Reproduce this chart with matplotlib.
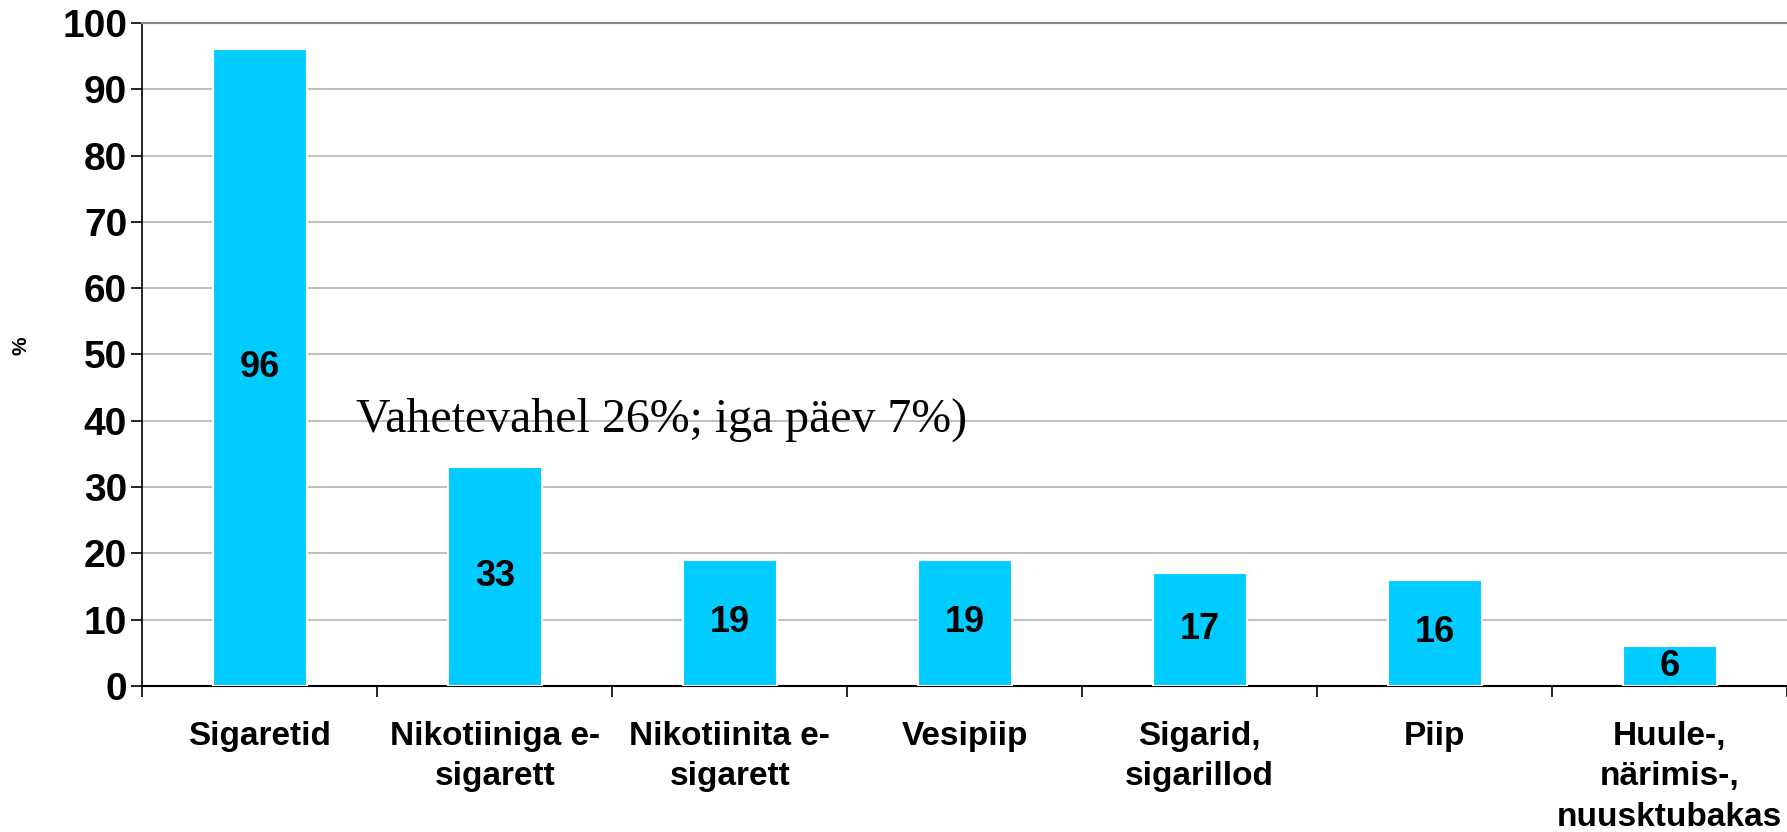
import numpy as np
import matplotlib.pyplot as plt

categories = ["Sigaretid", "Nikotiiniga e-\nsigarett", "Nikotiinita e-\nsigarett",
              "Vesipiip", "Sigarid,\nsigarillod", "Piip", "Huule-,\nnärimis-,\nnuusktubakas"]
values = [96, 33, 19, 19, 17, 16, 6]
yticks = list(range(0, 101, 10))
note = "Vahetevahel 26%; iga päev 7%)"

plt.rcParams['font.family'] = ['Liberation Sans', 'DejaVu Sans']

fig = plt.figure(figsize=(17.87, 8.32), dpi=100)
ax = fig.add_axes([0.0797, 0.1755, 0.9203, 0.797])

x = np.arange(len(categories))
bars = ax.bar(x, values, width=0.4, color='#00CCFF', edgecolor='white',
              linewidth=1.5, zorder=3)
ax.bar_label(bars, labels=[str(v) for v in values], label_type='center',
             fontsize=26, fontweight='bold', color='black')

ax.set_xlim(-0.5, len(categories) - 0.5)
ax.set_ylim(0, 100)
ax.set_yticks(yticks)
ax.set_yticklabels([str(t) for t in yticks], fontsize=28, fontweight='bold')
ax.yaxis.grid(True, color='#c0c0c0', linewidth=1.5, zorder=0)
ax.set_axisbelow(True)

# category labels centred, tick marks on the boundaries
ax.set_xticks(x)
ax.set_xticklabels(categories, fontsize=24, fontweight='bold', linespacing=1.4)
ax.tick_params(axis='x', which='major', length=0, pad=25)
ax.set_xticks(np.arange(-0.5, len(categories), 1.0), minor=True)
ax.tick_params(axis='x', which='minor', length=8, width=1.2, direction='out')
ax.tick_params(axis='y', length=8, width=1.2, direction='out', pad=3)

ax.spines['right'].set_visible(False)
ax.spines['top'].set_color('#888888')
ax.spines['top'].set_linewidth(1.5)
ax.spines['left'].set_linewidth(1.2)
ax.spines['bottom'].set_linewidth(1.5)

fig.text(0.0115, 0.585, "%", rotation=90, fontsize=15, fontweight='bold',
         ha='center', va='center')

ax.text(0.41, 40.2, note, fontsize=34.5, family=['Liberation Serif', 'DejaVu Serif'],
        ha='left', va='center', zorder=4)

fig.savefig("out.png", dpi=100)
